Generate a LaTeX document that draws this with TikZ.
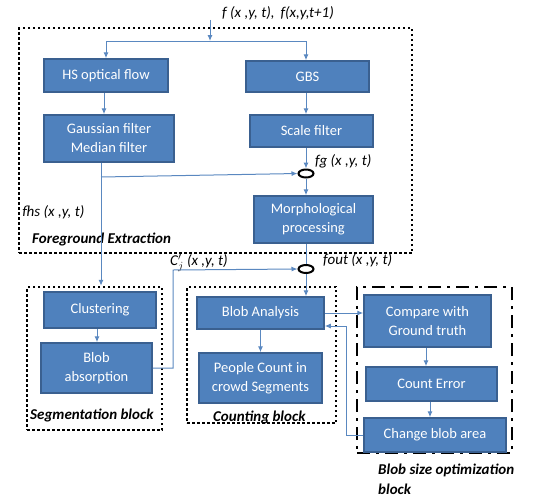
\documentclass[tikz,border=0pt]{standalone}
\usepackage{fontspec}
\setmainfont{Carlito}
\usetikzlibrary{arrows.meta, shapes.geometric}
\definecolor{boxblue}{HTML}{4F81BD}
\definecolor{boxedge}{HTML}{3A6090}
\definecolor{linkblue}{HTML}{5A88C0}
\tikzstyle{blk} = [draw=boxedge, line width=1.5pt, fill=boxblue, text=white, align=center, font=\fontsize{14.5}{19}\selectfont, inner sep=2pt]
\tikzstyle{sig} = [font=\itshape\fontsize{15}{17}\selectfont, anchor=west, inner sep=0pt]
\tikzstyle{blocktitle} = [font=\bfseries\itshape\fontsize{15}{20}\selectfont, anchor=west, inner sep=0pt, align=left]
\tikzstyle{dotbox} = [draw, line width=2.5pt, dash pattern=on 2.5pt off 2.5pt, inner sep=0pt]
\tikzstyle{dashdotbox} = [draw, line width=2.5pt, dash pattern=on 13pt off 6pt on 3pt off 6pt, inner sep=0pt]
\tikzstyle{link} = [draw=linkblue, line width=1pt, -{Latex[length=6pt,width=5pt]}]
\tikzstyle{junc} = [ellipse, draw, line width=2pt, minimum width=15pt, minimum height=8pt, inner sep=0pt]

\begin{document}
\begin{tikzpicture}[x=1pt, y=-1pt]
        \useasboundingbox (0,0) rectangle (538,499);
        % group frames
        \node (fgx) [dotbox, minimum width=393pt, minimum height=225pt] at (215.5,140.5) {};
        \node (segx) [dotbox, minimum width=135pt, minimum height=143pt] at (94.5,358.5) {};
        \node (cntx) [dotbox, minimum width=149pt, minimum height=136pt] at (261.5,355) {};
        \node (optx) [dashdotbox, minimum width=155pt, minimum height=166pt] at (434.5,370) {};
        % blocks
        \node (hs) [blk, minimum width=124pt, minimum height=33pt] at (106,75.5) {HS optical flow};
        \node (gauss) [blk, minimum width=130pt, minimum height=47pt] at (109,138.5) {Gaussian filter\\Median filter};
        \node (gbs) [blk, minimum width=123pt, minimum height=31pt] at (307.5,76.5) {GBS};
        \node (scale) [blk, minimum width=123pt, minimum height=32pt] at (311.5,131) {Scale filter};
        \node (morph) [blk, minimum width=119pt, minimum height=47pt] at (313.5,219.5) {Morphological\\processing};
        \node (clust) [blk, minimum width=112pt, minimum height=36pt] at (100,310) {Clustering};
        \node (absorb) [blk, minimum width=111pt, minimum height=50pt] at (96.5,368) {Blob\\absorption};
        \node (blobana) [blk, minimum width=127pt, minimum height=32pt] at (260.5,313) {Blob Analysis};
        \node (people) [blk, minimum width=123pt, minimum height=50pt] at (260.5,378) {People Count in\\crowd Segments};
        \node (compare) [blk, minimum width=127pt, minimum height=52pt] at (427.5,321) {Compare with\\Ground truth};
        \node (counterr) [blk, minimum width=131pt, minimum height=34pt] at (431.5,384) {Count Error};
        \node (change) [blk, minimum width=142pt, minimum height=34pt] at (435,435) {Change blob area};
        \node (fg) [junc] at (306,173.5) {};
        \node (fout) [junc] at (306,269) {};
        % texts
        \node (inp) [sig, anchor=center] at (278,13) {f (x ,y, t),\, f(x,y,t+1)};
        \node (fglbl) [sig] at (315,161) {fg (x ,y, t)};
        \node (fhslbl) [sig] at (22,212) {fhs (x ,y, t)};
        \node (cjlbl) [sig] at (170,263) {C$'_{j}$ (x ,y, t)};
        \node (foutlbl) [sig] at (323,260) {fout (x ,y, t)};
        \node (fgtitle) [blocktitle] at (32,239) {Foreground Extraction};
        \node (segtitle) [blocktitle] at (30,415) {Segmentation block};
        \node (cnttitle) [blocktitle] at (213,417) {Counting block};
        \node (opttitle) [blocktitle] at (378,479) {Blob size optimization\\block};
        % connectors
        \coordinate (split) at (210,41);
        \coordinate (tap) at (101,177);
        \coordinate (cj) at (173,270);
        \draw [link] (inp.south -| split) -- (split);
        \draw [link] (split) -| (hs.north);
        \draw [link] (split) -| (gbs.north -| fg);
        \draw [link] (hs.south -| 104,0) -- (gauss.north -| 104,0);
        \draw [link] (gbs.south -| fg) -- (scale.north -| fg);
        \draw [link] (scale.south -| fg) -- (fg.north);
        \draw [link] (fg.south) -- (morph.north -| fg);
        \draw [draw=linkblue, line width=1pt] (gauss.south -| tap) -- (tap);
        \draw [link] (tap) -- (fg.west);
        \draw [link] (tap) -- (tap |- segx.north);
        \draw [draw=linkblue, line width=1pt] (morph.south -| fout) -- (fout.north);
        \draw [link] (clust.south -| 97,0) -- (absorb.north -| 97,0);
        \draw [link] (absorb.east) -| (cj) -- (fout.west);
        \draw [link] (fout.south) -- (blobana.north -| fout);
        \draw [link] (blobana.south) -- (people.north);
        \draw [link] (blobana.east) -- (blobana.east -| compare.west);
        \draw [link] (compare.south -| 426,0) -- (counterr.north -| 426,0);
        \draw [link] (counterr.south -| 430,0) -- (change.north -| 430,0);
        \draw [link] (change.west) -- ++(-17,0) |- ([yshift=-13pt]blobana.east);
    \end{tikzpicture}
\end{document}
